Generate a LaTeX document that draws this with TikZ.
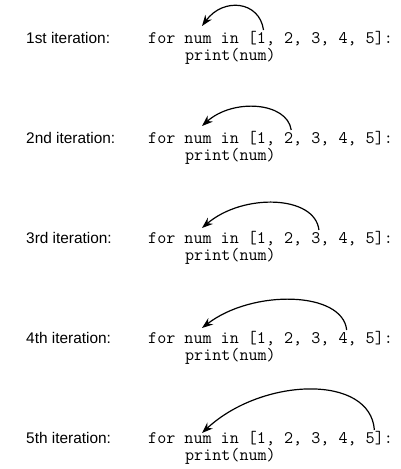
\documentclass[tikz,border=0pt]{standalone}
\usepackage{fontspec}
\setmainfont{Liberation Sans}
\usetikzlibrary{arrows.meta,calc}

\tikzset{
  itlabel/.style={anchor=base west, inner sep=0pt, font=\fontsize{15.4}{17}\selectfont},
  codeline/.style={anchor=base west, inner sep=0pt, font=\ttfamily\fontsize{17.6}{17}\selectfont},
  looparrow/.style={line width=1.2pt, -{Stealth[length=11pt,width=8pt]}},
}

\begin{document}
\begin{tikzpicture}[x=1pt,y=-1pt]
\useasboundingbox (0,0) rectangle (400,469);

% one row per pass of the loop
\foreach \k/\ord/\rise/\drop in {1/1st/29/17, 2/2nd/28/17, 3/3rd/35/15, 4/4th/39/15, 5/5th/56/10} {
  \pgfmathsetmacro{\yb}{43+100*(\k-1)}
  \pgfmathsetmacro{\sx}{(12.5+3*(\k-1))*9.24}
  \pgfmathsetmacro{\cx}{0.35*(\sx-54)}
  \node[itlabel] (lab\k) at (26,\yb) {\ord\ iteration:};
  \node[codeline] (for\k) at (148,\yb) {for num in [1, 2, 3, 4, 5]:};
  \node[codeline] (prn\k) at ($(for\k.base west)+(4*9.24,17)$) {print(num)};

  \coordinate (from\k) at ($(for\k.base west)+(\sx,-13)$);
  \coordinate (to\k) at ($(for\k.base west)+(54,-\drop)$);
  \draw[looparrow] (from\k) .. controls ($(from\k)+(-4,-\rise)$) and ($(to\k)+(\cx,-\rise)$) .. (to\k);
}
\end{tikzpicture}
\end{document}
